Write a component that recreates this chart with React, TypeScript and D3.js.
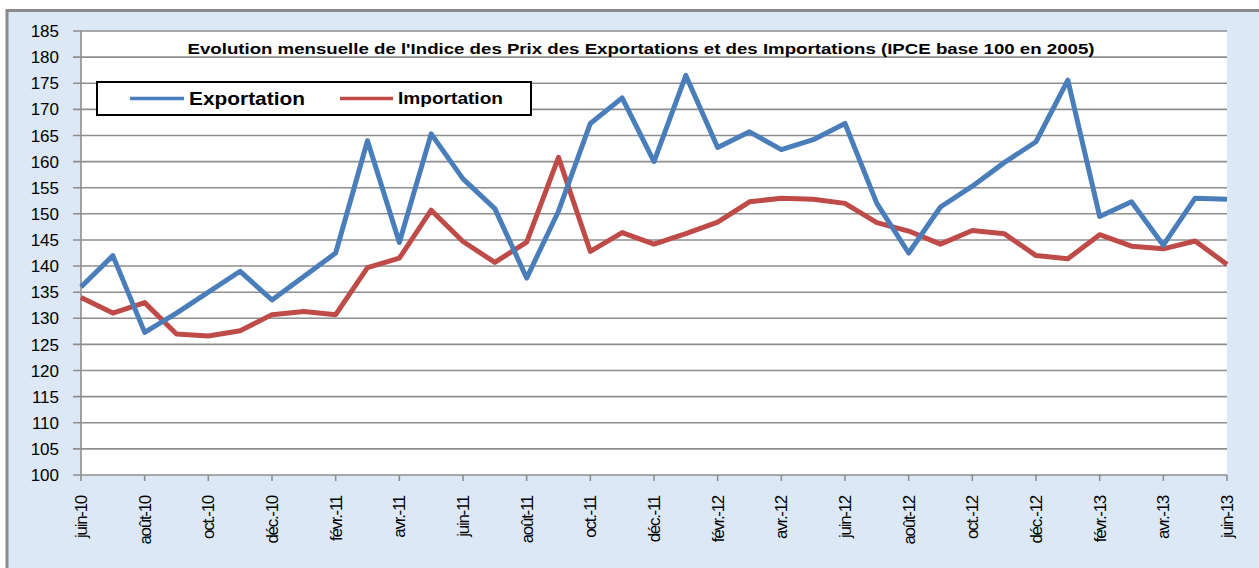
import React from 'react';
import * as d3 from 'd3';

// months jun-10 .. jun-13
const months = [
  'juin-10', 'juil.-10', 'août-10', 'sept.-10', 'oct.-10', 'nov.-10', 'déc.-10',
  'janv.-11', 'févr.-11', 'mars-11', 'avr.-11', 'mai-11', 'juin-11', 'juil.-11',
  'août-11', 'sept.-11', 'oct.-11', 'nov.-11', 'déc.-11', 'janv.-12', 'févr.-12',
  'mars-12', 'avr.-12', 'mai-12', 'juin-12', 'juil.-12', 'août-12', 'sept.-12',
  'oct.-12', 'nov.-12', 'déc.-12', 'janv.-13', 'févr.-13', 'mars-13', 'avr.-13',
  'mai-13', 'juin-13',
];

const exportation = [
  136, 142, 127.3, 131, 135, 139, 133.5, 138, 142.5, 164, 144.5, 165.3, 156.7,
  151, 137.7, 150.5, 167.3, 172.2, 160, 176.5, 162.7, 165.7, 162.3, 164.2, 167.3,
  152, 142.5, 151.3, 155.3, 159.8, 163.8, 175.6, 149.5, 152.3, 144, 153, 152.8,
];

const importation = [
  134, 131, 133, 127, 126.6, 127.6, 130.7, 131.3, 130.7, 139.7, 141.5, 150.7,
  144.7, 140.7, 144.6, 160.8, 142.8, 146.4, 144.2, 146.2, 148.4, 152.3, 153,
  152.8, 152, 148.3, 146.7, 144.2, 146.8, 146.2, 142, 141.4, 146, 143.8, 143.3,
  144.8, 140.3,
];

const yTicks = d3.range(100, 186, 5);
const tickLabels = ['juin-10', 'août-10', 'oct.-10', 'déc.-10', 'févr.-11', 'avr.-11', 'juin-11',
  'août-11', 'oct.-11', 'déc.-11', 'févr.-12', 'avr.-12', 'juin-12', 'août-12', 'oct.-12',
  'déc.-12', 'févr.-13', 'avr.-13', 'juin-13'];

const title = "Evolution mensuelle de l'Indice des Prix des Exportations et des Importations (IPCE base 100 en 2005)";

const W = 1259;
const H = 568;
const left = 81, right = 1227, top = 31, bottom = 475;
const BLUE = '#4a7ebb';
const RED = '#be4b48';
const GRID = '#8e8e8e';

export default function App() {
  const x = d3.scalePoint<string>().domain(months).range([left, right]);
  const y = d3.scaleLinear().domain([100, 185]).range([bottom, top]);

  const line = d3.line<number>()
    .x((_, i) => x(months[i]) as number)
    .y(d => y(d));

  return (
    <svg width={W} height={H} style={{ position: 'absolute', left: 0, top: 0 }}
      fontFamily="'Liberation Sans', Arial, sans-serif">
      <rect x={0} y={0} width={W} height={H} fill="#ffffff" />
      <rect x={7} y={10.5} width={W} height={H} fill="#dce8f5" stroke="#8a8a8a" strokeWidth={3} />
      <rect x={left} y={top} width={right - left} height={bottom - top} fill="#ffffff" />

      {/* gridlines */}
      {yTicks.map(t => (
        <g key={t}>
          <line x1={left - 8} x2={right} y1={y(t)} y2={y(t)} stroke={GRID} strokeWidth={1.6} />
          <text x={59} y={y(t)} dy="0.36em" textAnchor="end" fontSize={17} fill="#000">{t}</text>
        </g>
      ))}
      {/* y axis */}
      <line x1={left} x2={left} y1={top} y2={bottom} stroke={GRID} strokeWidth={1.6} />

      {/* x ticks */}
      {tickLabels.map(m => {
        const px = x(m) as number;
        return (
          <g key={m}>
            <line x1={px} x2={px} y1={bottom} y2={bottom + 6} stroke={GRID} strokeWidth={1.6} />
            <text transform={`translate(${px + 6},${496}) rotate(-90)`} textAnchor="end"
              fontSize={17} letterSpacing={-1.3} fill="#000">{m}</text>
          </g>
        );
      })}

      {/* series */}
      <path d={line(importation) ?? ''} fill="none" stroke={RED} strokeWidth={5} strokeLinejoin="round" />
      <path d={line(exportation) ?? ''} fill="none" stroke={BLUE} strokeWidth={5} strokeLinejoin="round" />

      {/* title */}
      <text x={641} y={54} textAnchor="middle" fontSize={15.5} fontWeight="bold" fill="#000"
        textLength={907} lengthAdjust="spacingAndGlyphs">{title}</text>

      {/* legend */}
      <rect x={97} y={82} width={434} height={33} fill="#ffffff" stroke="#000" strokeWidth={2} />
      <line x1={130} x2={184} y1={98.5} y2={98.5} stroke={BLUE} strokeWidth={3.5} />
      <text x={189} y={105} fontSize={19} fontWeight="bold" fill="#000"
        textLength={116} lengthAdjust="spacingAndGlyphs">Exportation</text>
      <line x1={340} x2={393} y1={98.5} y2={98.5} stroke={RED} strokeWidth={3.5} />
      <text x={398} y={104} fontSize={17} fontWeight="bold" fill="#000"
        textLength={105} lengthAdjust="spacingAndGlyphs">Importation</text>
    </svg>
  );
}
